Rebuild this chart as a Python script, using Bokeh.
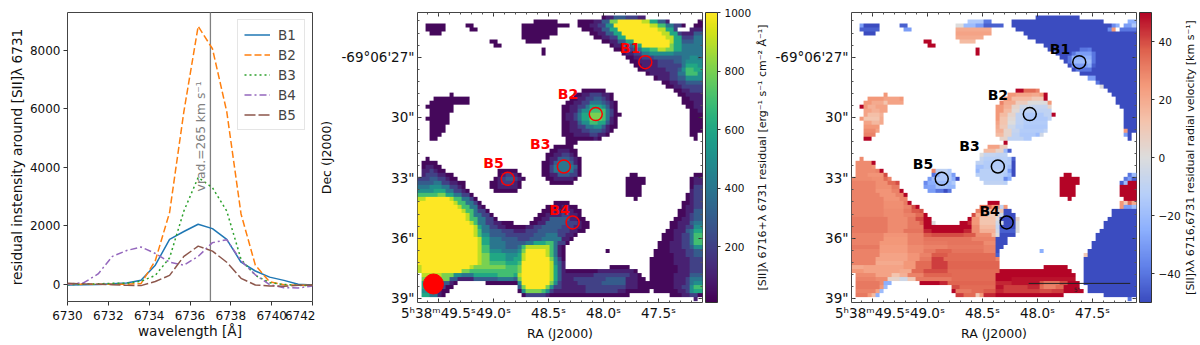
import numpy as np
from math import pi
from bokeh.embed import file_html
from bokeh.resources import INLINE
from bokeh.layouts import row
from bokeh.models import (Range1d, FixedTicker, LinearAxis, LinearColorMapper, ColorBar,
                          Legend, LegendItem)
from bokeh.palettes import Viridis256
from bokeh.plotting import figure
from bokeh.core.properties import value

# ---------- spectra ----------
wavelength = [6730, 6730.8, 6731.5, 6732.2, 6732.9, 6733.6, 6734.3, 6735.0, 6735.7, 6736.4, 6737.1, 6737.8,
              6738.5, 6739.2, 6739.9, 6740.6, 6741.3, 6742.0]
B1 = [-30, -20, -10, 10, 40, 130, 650, 1530, 1800, 2050, 1900, 1530, 750, 450, 240, 130, -5, -30]
B2 = [0, 0, 0, 0, 0, 20, 800, 2450, 5900, 8820, 8050, 5900, 2400, 650, 80, -20, -40, -40]
B3 = [-20, 0, 10, 30, 30, 100, 300, 900, 2500, 3650, 3300, 2500, 850, 300, 50, -10, -40, -50]
B4 = [0, 50, 350, 950, 1150, 1270, 1050, 750, 650, 950, 1420, 1520, 800, 320, -20, -120, -130, -60]
B5 = [30, 10, 0, -20, -40, -50, 90, 300, 950, 1300, 1130, 750, 200, -30, -60, -70, -40, -30]
series_names = ["B1", "B2", "B3", "B4", "B5"]
series_colors = ["#1f77b4", "#ff7f0e", "#2ca02c", "#9467bd", "#8c564b"]
series_dashes = ["solid", "7 3", "2 3", "7 3 2 3", "11 3"]
xticks1 = [6730, 6732, 6734, 6736, 6738, 6740, 6742]
yticks1 = [0, 2000, 4000, 6000, 8000]

# ---------- knots (RA seconds, Dec arcsec) ----------
knot_ra = [47.62, 48.07, 48.36, 48.28, 48.87]
knot_dec = [27.25, 29.83, 32.44, 35.22, 33.05]
lab2_ra = [47.757, 48.323, 48.575, 48.40, 49.0]
lab2_dec = [26.54, 28.81, 31.33, 34.58, 32.24]
lab3_ra = [47.796, 48.36, 48.617, 48.435, 49.04]
lab3_dec = [26.6, 28.86, 31.4, 34.64, 32.29]
ra_ticks = [49.5, 49.0, 48.5, 48.0, 47.5]
ra_labels = ["5ʰ38ᵐ49.5ˢ", "49.0ˢ", "48.5ˢ", "48.0ˢ", "47.5ˢ"]
dec_ticks = [27, 30, 33, 36, 39]
dec_labels = ["-69°06'27\"", '30"', '33"', '36"', '39"']

# ---------- map 1: [SII] residual, level per cell run (column:level); "." = blank ----------
S_BLOBS = [
 {2: "29:0 35:.", 3: "26:0 38:.", 4: "26:0 35:.", 5: "26:0 35:.", 6: "26:0 33:.", 7: "27:0 31:."},
 {3: "2:0 7:.", 4: "2:0 7:.", 5: "3:0 6:."},
 {3: "12:0 14:.", 4: "13:0 15:."},
 {7: "18:0 20:.", 8: "19:0 21:."},
 {9: "31:0 32:.", 10: "31:0 32:."},
 {1: "46:0 47:1 49:3 52:2 55:1 57:.",
  2: "40:0 44:1 46:3 48:8 50:A 56:9 58:6 60:3 62:1 63:. 70:0",
  3: "40:0 43:1 45:2 47:5 49:A 58:9 60:7 62:4 64:2 66:0 67:. 69:0",
  4: "41:0 44:1 46:3 48:6 50:A 60:9 62:6 64:2 65:. 68:1",
  5: "43:0 45:1 47:3 49:6 51:A 61:9 63:6 65:2 66:1 69:3",
  6: "44:0 46:1 48:2 50:6 52:A 62:9 64:6 66:2 69:4",
  7: "46:0 48:1 50:3 52:6 54:A 63:9 64:6 66:3 69:4",
  8: "48:0 49:1 51:3 54:6 56:A 63:8 64:6 66:4 69:4",
  9: "49:0 51:1 52:2 54:4 56:6 58:7 60:9 62:8 64:6 66:4 69:4",
  10: "51:0 52:1 54:2 56:4 58:5 64:4",
  11: "52:0 54:1 56:2 59:3 66:4 68:5 70:4",
  12: "53:0 55:1 60:2 64:3 66:4 67:5",
  13: "54:0 56:1 60:2 66:4 67:6 70:5",
  14: "55:0 57:1 62:2 65:3 66:5 67:7 69:6",
  15: "57:0 58:1 63:2 65:4 67:7 70:5",
  16: "59:0 60:1 63:2 65:3 67:5",
  17: "61:0 63:1 65:2 67:3",
  18: "62:0 64:1 66:2",
  19: "64:0 66:1 68:2",
  20: "65:0 67:1", 21: "66:0 68:1", 22: "66:0 69:1", 23: "67:0 69:1", 24: "68:0 70:1",
  25: "68:0", 26: "68:0", 27: "68:0", 28: "68:0", 29: "68:0", 30: "68:0 70:.", 31: "69:0 70:."},
 {20: "8:0 9:.", 21: "4:0 13:.", 22: "3:0 13:.", 23: "2:0 9:.", 24: "3:0 9:.", 25: "3:0 8:.",
  26: "2:0 8:.", 27: "3:0 8:.", 28: "3:0 7:.", 29: "3:0 7:.", 30: "3:0 6:.", 31: "3:0 5:."},
 {19: "41:0 47:.",
  20: "39:0 41:1 43:2 46:1 48:0 49:.",
  21: "38:0 40:1 42:2 44:3 46:2 47:1 48:0 49:.",
  22: "37:0 39:1 41:2 43:4 46:3 47:2 48:1 49:0 50:.",
  23: "36:0 38:1 40:2 42:4 43:6 46:5 47:3 48:1 49:0 50:.",
  24: "36:0 38:1 40:3 41:5 43:7 47:4 48:2 49:0 50:.",
  25: "36:0 37:1 39:2 40:4 41:6 43:8 46:7 47:4 48:2 49:0 51:.",
  26: "36:0 37:1 39:2 40:4 41:6 43:8 46:7 47:4 48:1 49:0 50:.",
  27: "36:0 38:1 40:3 41:5 43:7 45:6 47:3 48:1 49:0 50:.",
  28: "36:0 38:1 40:2 42:4 44:5 46:3 47:1 48:0 50:.",
  29: "36:0 38:1 41:2 43:3 46:2 47:1 48:0 49:.",
  30: "36:0 39:1 43:2 45:1 47:0 48:.",
  31: "37:0 44:1 45:0 46:.",
  32: "37:0 40:."},
 {33: "34:0 39:.",
  34: "33:0 35:1 38:0 40:.",
  35: "32:0 34:1 36:2 38:1 39:0 40:.",
  36: "32:0 33:1 35:3 38:2 39:1 40:0 41:.",
  37: "31:0 33:1 34:3 35:4 38:3 39:1 40:0 41:.",
  38: "31:0 33:2 34:4 39:3 40:0 41:.",
  39: "31:0 33:2 34:4 39:2 40:0 41:.",
  40: "31:0 33:1 35:3 38:2 40:0 41:.",
  41: "32:0 34:1 37:1 39:0 40:.",
  42: "33:0 39:."},
 {39: "20:0 25:.",
  40: "20:0 21:1 22:2 24:1 25:0 26:.",
  41: "19:0 20:1 21:2 22:3 24:2 25:1 26:0 27:.",
  42: "18:0 20:1 21:2 24:1 25:0 26:.",
  43: "18:0 20:1 25:0 26:.",
  44: "19:0 25:."},
 {40: "53:0 55:.", 41: "52:0 57:.", 42: "52:0 57:.", 43: "52:0 56:.", 44: "52:0 56:.",
  45: "52:0 56:.", 46: "54:0 55:."},
 {36: "2:0 3:.",
  37: "1:0 5:.",
  38: "1:0 2:1 4:0 6:.",
  39: "1:1 3:2 4:1 5:0 7:.",
  40: "1:1 2:2 5:1 7:0 9:.",
  41: "0:2 3:3 5:2 7:1 8:0 10:.",
  42: "0:3 4:4 6:2 8:1 10:0 12:.",
  43: "0:4 3:5 6:4 8:2 10:1 11:0 12:.",
  44: "0:5 4:6 7:4 9:2 11:1 12:0 13:.",
  45: "0:7 5:8 7:6 9:4 11:2 13:0 14:.",
  46: "0:9 2:A 8:9 9:7 11:4 13:2 14:0 15:.",
  47: "0:A 9:9 10:7 12:4 14:2 15:0 16:. 34:0 38:.",
  48: "0:A 10:9 11:7 13:4 15:1 16:0 17:. 32:0 36:1 38:0 40:.",
  49: "0:A 11:9 12:7 14:4 15:2 17:0 18:. 31:0 34:1 39:0 41:.",
  50: "0:A 12:9 13:7 14:4 16:2 18:0 19:. 30:0 32:1 36:2 38:1 40:0 41:.",
  51: "0:A 12:9 13:7 15:4 17:2 19:0 20:. 29:0 31:1 33:3 38:1 40:0 42:.",
  52: "0:A 13:9 14:7 15:4 17:2 19:1 21:0 24:. 28:0 30:1 32:3 37:2 40:1 41:0 43:.",
  53: "0:A 14:9 15:6 16:4 18:2 20:1 22:0 27:1 29:2 31:3 36:2 39:1 41:0 43:.",
  54: "0:A 14:9 15:7 16:4 18:3 21:2 24:1 27:2 30:3 35:2 38:1 40:0 42:.",
  55: "0:A 14:9 15:7 16:5 18:3 22:2 29:3 32:4 35:2 37:1 39:0 40:.",
  56: "0:A 15:9 16:6 18:4 21:3 25:2 28:3 31:4 36:1 38:0 39:.",
  57: "0:A 15:9 16:6 18:4 22:3 27:4 29:6 32:7 34:4 35:2 37:0 38:.",
  58: "0:A 15:9 16:7 18:4 22:3 25:4 26:7 27:9 33:7 34:4 35:1 36:0 37:.",
  59: "0:A 15:9 16:7 18:5 21:4 25:5 26:8 27:A 32:9 33:7 34:4 35:1 36:0 37:.",
  60: "0:A 15:9 16:8 18:6 22:5 25:6 26:9 27:A 32:9 33:7 34:4 35:1 36:0 37:.",
  61: "0:A 15:9 16:8 18:6 22:5 24:6 26:9 27:A 33:8 34:5 35:2 36:0 37:.",
  62: "0:A 15:9 16:8 18:7 22:6 25:7 26:A 33:9 34:5 35:3 36:1 37:.",
  63: "0:9 1:A 13:9 14:8 22:7 25:8 26:A 33:9 34:6 35:3 36:1 37:.",
  64: "0:9 1:A 11:8 13:7 25:8 26:A 33:9 34:6 35:3 36:1 37:0 45:1 54:0 55:.",
  65: "1:9 6:8 9:5 11:4 14:6 20:7 24:6 25:9 26:A 33:9 34:6 35:3 36:1 44:2 53:1 55:0 56:.",
  66: "1:8 8:3 10:1 14:3 20:4 24:3 25:8 26:A 33:9 34:6 35:3 36:1 39:2 47:3 52:1 55:0 57:.",
  67: "1:6 6:3 8:1 9:0 10:. 17:0 25:5 26:A 33:8 34:5 35:2 36:1 40:2 46:3 52:1 55:0 58:.",
  68: "1:6 6:2 7:0 9:. 25:3 26:8 27:A 32:8 33:5 34:2 36:1 42:2 52:1 55:0 59:.",
  69: "1:5 5:1 6:0 8:. 25:0 26:5 27:8 31:7 32:5 33:2 34:1 42:2 50:1 52:0 58:.",
  70: "1:6 3:4 5:1 6:0 7:. 26:0 27:2 32:1 33:0 53:."},
 {63: "48:0 53:.", 59: "47:0 48:."},
 {40: "69:0", 41: "68:0 69:1", 42: "68:0 69:1", 43: "68:0 69:2", 44: "68:1 69:2", 45: "67:0 68:1 69:2",
  46: "67:0 68:1 69:2", 47: "66:0 68:1 69:2", 48: "66:0 67:1 69:2", 49: "65:0 67:1 69:3",
  50: "65:0 67:1 68:2 69:3", 51: "64:0 66:1 68:2 69:3", 52: "63:0 65:1 68:3 69:4",
  53: "63:0 65:1 67:2 69:5", 54: "62:0 64:1 67:3 68:4 69:6", 55: "61:0 64:1 66:2 68:4 69:7",
  56: "61:0 64:1 66:2 68:4 69:7", 57: "60:0 63:1 66:2 68:4 69:7", 58: "60:0 63:1 66:2 68:3 69:5",
  59: "59:0 63:1 67:2 69:3", 60: "59:0 64:1 67:2 69:3", 61: "58:0 64:1 68:2", 62: "58:0 64:1 68:2",
  63: "58:0 65:1 68:2", 64: "58:0 65:1 68:2", 65: "58:0 64:1 68:3", 66: "58:0 64:1 67:2 68:4",
  67: "58:0 64:1 67:2 68:4 69:5", 68: "59:0 64:1 66:2 68:5 69:7", 69: "59:0 65:1 67:2 68:5 69:6",
  70: "63:0 66:1 68:2 70:0", 71: "69:1 70:."},
]
S_LEVELS = {"0": 30, "1": 100, "2": 200, "3": 300, "4": 400, "5": 500, "6": 600, "7": 700, "8": 800,
            "9": 900, "A": 1000}

# ---------- map 2: residual radial velocity, value per cell run (column:km/s); "." = blank ----------
V_BLOBS = [
 {2: "29:-15 33:-40 35:.", 3: "26:0 28:-20 31:-30 33:-45 38:.", 4: "26:20 35:.", 5: "26:22 35:.",
  6: "26:20 33:.", 7: "27:15 31:."},
 {3: "2:-30 3:-50 7:.", 4: "2:-45 7:.", 5: "3:-50 6:."},
 {3: "12:-45 14:.", 4: "13:-30 15:."},
 {7: "18:50 20:.", 8: "19:50 21:."},
 {9: "31:50 32:.", 10: "31:50 32:."},
 {1: "46:-50 57:.", 2: "40:-50 63:. 69:-25", 3: "40:-50 65:-35 66:-25 67:. 68:-30 70:-15",
  4: "41:-50 64:-35 65:25 66:. 67:-40", 5: "43:-50", 6: "44:-50", 7: "46:-50", 8: "48:-50",
  9: "49:-50 57:-40 59:-38 60:-50", 10: "51:-50 55:-40 56:-30 59:-30 60:-40 61:-50",
  11: "52:-50 54:-40 55:-25 59:-25 60:-40 61:-50", 12: "53:-50 54:-40 55:-20 59:-20 60:-40 61:-50",
  13: "54:-50 55:-30 59:-25 60:-45 61:-50", 14: "55:-50 56:-40 59:-40 60:-50", 15: "57:-50",
  16: "59:-30 61:-50", 17: "61:-40 62:-50", 18: "62:0 63:-50", 19: "64:-50", 20: "65:-50", 21: "66:-50",
  22: "66:-50", 23: "67:-50", 24: "68:-50", 25: "68:-50", 26: "68:-50", 27: "68:-50", 28: "68:-50",
  29: "68:25 69:-50", 30: "68:-30 69:-50 70:.", 31: "69:-50 70:."},
 {20: "8:25 9:.", 21: "4:25 8:22 12:25 13:.", 22: "3:25 5:20 8:12 9:22 13:.", 23: "2:50 3:25 4:18 6:22 9:.",
  24: "3:22 5:18 7:22 9:.", 25: "3:22 4:14 7:18 8:.", 26: "2:25 3:12 7:20 8:.", 27: "3:22 5:16 7:20 8:.",
  28: "3:25 7:.", 29: "3:28 6:22 7:.", 30: "3:30 6:.", 31: "3:50 5:."},
 {19: "41:50 43:35 46:30 47:.",
  20: "39:25 41:22 45:20 47:25 48:50 49:.",
  21: "38:25 40:15 45:10 48:50 49:.",
  22: "37:30 38:20 41:8 44:0 49:25 50:.",
  23: "36:25 38:18 40:5 42:-5 45:-8 49:5 50:.",
  24: "36:25 38:15 40:2 42:-10 50:.",
  25: "36:25 37:15 39:5 41:-10 43:-15 48:-10 50:50 51:.",
  26: "36:25 37:12 39:2 41:-10 43:-15 49:-10 50:.",
  27: "36:22 37:12 39:0 41:-10 43:-14 49:.",
  28: "36:20 37:10 39:-5 41:-12 43:-15 49:.",
  29: "36:18 38:5 40:-8 42:-14 48:-10 49:.",
  30: "36:15 38:5 40:-10 42:-15 46:-20 47:-5 48:.",
  31: "37:5 39:-10 43:-15 45:.",
  32: "38:50 39:."},
 {33: "34:22 37:8 39:.",
  34: "33:15 36:5 38:-20 39:-45 40:.",
  35: "32:0 33:-8 36:-10 39:.",
  36: "32:-8 33:-12 39:-15 40:-45 41:.",
  37: "31:-10 33:-14 40:-50 41:.",
  38: "31:-18 33:-14 39:-18 40:-50 41:.",
  39: "31:-22 32:-12 39:-30 40:-50 41:.",
  40: "31:-12 38:-15 39:-20 40:-50 41:.",
  41: "32:-12 38:-35 39:-25 40:.",
  42: "33:-10 38:-12 39:."},
 {39: "20:30 21:-12 22:-10 24:-15 25:.",
  40: "20:-40 21:-25 22:-15 25:-30 26:.",
  41: "19:-30 20:-20 21:-15 25:-25 26:-50 27:.",
  42: "18:-35 19:-25 21:-20 25:-15 26:.",
  43: "18:-30 19:-28 21:-18 24:-22 26:.",
  44: "19:-30 21:-40 23:-50 24:-40 25:."},
 {40: "53:50 55:.", 41: "52:50 57:.", 42: "52:50 57:.", 43: "52:50 56:.", 44: "52:50 56:.", 45: "52:50 56:.",
  46: "54:50 55:."},
 {36: "2:28 3:.",
  37: "1:28 5:50 6:.",
  38: "1:28 5:26 6:.",
  39: "1:28 6:30 7:50 8:.",
  40: "1:28 4:26 8:40 9:.",
  41: "0:28 5:27 8:35 9:30 10:.",
  42: "0:30 6:27 9:35 11:40 12:.",
  43: "0:30 6:27 10:32 12:.",
  44: "0:30 6:26 10:30 12:50 13:.",
  45: "0:30 7:26 11:30 13:50 14:.",
  46: "0:30 8:26 12:30 14:.",
  47: "0:30 8:27 13:32 14:50 15:. 34:50 37:.",
  48: "0:30 8:27 13:30 15:40 16:50 17:. 32:35 35:25 37:-10 38:25 39:.",
  49: "0:30 8:28 13:32 15:38 17:40 18:. 31:30 33:15 36:12 38:-50 40:.",
  50: "0:30 8:28 13:30 16:35 18:50 19:. 30:40 31:20 34:8 37:-5 38:-50 41:.",
  51: "0:32 9:28 14:32 16:40 18:50 20:. 29:50 30:25 32:12 36:0 37:-50 41:5 42:.",
  52: "0:32 9:28 14:32 17:38 18:50 20:0 21:. 27:50 29:45 30:25 32:12 36:-5 38:-50 41:0 42:.",
  53: "0:32 9:28 14:32 18:50 30:28 32:15 36:-8 37:-50 41:0 42:.",
  54: "0:32 9:28 13:33 18:45 20:50 28:45 30:28 32:18 36:-5 37:-45 41:0 42:.",
  55: "0:30 8:26 14:30 18:38 20:40 28:38 31:28 35:15 36:0 37:-50 41:.",
  56: "0:30 8:25 14:30 18:33 30:30 36:-50 39:.",
  57: "0:30 7:25 14:30 18:32 24:33 33:28 36:-50 39:.",
  58: "0:32 7:24 14:28 18:30 24:32 33:30 36:-50 38:.",
  59: "0:30 7:24 14:28 18:32 21:36 25:33 33:30 36:-50 37:.",
  60: "0:30 7:22 14:26 17:30 20:38 24:35 36:-45 37:.",
  61: "0:30 6:22 14:26 17:32 20:42 23:35 36:30 37:.",
  62: "0:30 6:20 13:25 16:35 20:42 24:36 37:.",
  63: "0:20 3:22 13:25 16:35 20:42 24:36 37:.",
  64: "0:25 3:22 12:20 15:35 18:40 24:35 37:50 55:.",
  65: "1:28 6:22 10:12 12:18 14:30 18:36 25:35 36:50 56:.",
  66: "1:30 6:28 9:5 12:-5 14:10 16:32 25:35 36:50 40:48 56:.",
  67: "1:32 7:28 8:-25 10:. 17:50 22:45 24:36 36:45 40:48 47:38 48:32 52:40 54:50 57:.",
  68: "1:32 7:25 8:-20 9:. 25:40 27:35 36:48 38:42 44:45 47:35 48:30 51:35 53:50 57:.",
  69: "1:30 6:22 7:-20 8:. 25:50 26:32 30:35 33:38 36:45 38:42 47:40 50:42 53:50 58:.",
  70: "1:32 4:25 5:15 6:-25 7:. 26:42 28:35 31:10 32:25 33:45 36:50 53:."},
 {63: "48:50 54:.", 59: "47:-25 48:."},
 {40: "69:-40 70:-20", 41: "68:-40 69:-30 70:-45", 42: "67:-45 68:-20 69:50", 43: "67:50", 44: "67:50",
  45: "67:50", 46: "68:50", 47: "67:25 68:10 69:35 70:20", 48: "67:25 68:-30 70:-20", 49: "65:-50",
  50: "65:-50", 51: "64:-50", 52: "63:-50", 53: "63:-50", 54: "62:-50", 55: "61:-50", 56: "61:-50",
  57: "60:-50", 58: "60:-50", 59: "59:-50", 60: "58:10 59:-50", 61: "58:-50", 62: "58:-50", 63: "58:-50",
  64: "58:-50", 65: "58:-50", 66: "58:-50", 67: "58:-50", 68: "59:-50", 69: "59:-50", 70: "63:-50",
  71: "69:-40 70:."},
]
coolwarm_anchors = [(59, 76, 192), (98, 130, 234), (141, 176, 254), (184, 208, 249), (221, 221, 221),
                    (245, 196, 173), (244, 154, 123), (222, 96, 77), (180, 4, 38)]

# ---------- helpers ----------
NROW, NCOL = 72, 72
CELL_X, CELL_Y = 12 / 330, 12.1 / 60.7
RA_L, RA_R, DEC_T, DEC_B = 49.69, 47.10, 24.78, 39.2


def build(blobs, decode):
    arr = np.full((NROW, NCOL), np.nan)
    for blob in blobs:
        for r, text in blob.items():
            toks = [t.split(":") for t in text.split()]
            for i, (c, v) in enumerate(toks):
                c = int(c)
                end = int(toks[i + 1][0]) if i + 1 < len(toks) else NCOL
                if v != ".":
                    arr[r, c:end] = decode(v)
    return arr


def ramp(anchors, n=256):
    xs = np.linspace(0, len(anchors) - 1, n)
    a = np.array(anchors, float)
    chans = [np.interp(xs, np.arange(len(anchors)), a[:, k]) for k in range(3)]
    return ["#%02x%02x%02x" % (int(r), int(g), int(b)) for r, g, b in zip(*chans)]


def style_axis(ax, size="12.5px"):
    ax.major_label_text_font = "DejaVu Sans"
    ax.major_label_text_font_size = size
    ax.major_label_text_color = "#111111"
    ax.axis_label_text_font = "DejaVu Sans"
    ax.axis_label_text_font_style = "normal"
    ax.axis_label_text_font_size = "13.7px"
    ax.axis_label_text_color = "#111111"
    ax.axis_line_color = None
    ax.major_tick_line_color = "#333333"
    ax.minor_tick_line_color = "#555555"


FONT = value("DejaVu Sans")
WCS_X = FixedTicker(ticks=[-t for t in ra_ticks], minor_ticks=[round(-49.6 + 0.1 * i, 2) for i in range(25)])
WCS_Y = FixedTicker(ticks=[-t for t in dec_ticks], minor_ticks=[round(-39 + 0.6 * i, 2) for i in range(24)])


def wcs_map(arr, mapper, name_color, lab_ra, lab_dec, left, right, ylabel, bar_ticks, bar_over):
    p = figure(frame_width=285, frame_height=290, min_border_left=left, min_border_right=right,
               min_border_top=12, min_border_bottom=35, output_backend="svg", toolbar_location=None,
               x_range=Range1d(-RA_L, -RA_R), y_range=Range1d(-DEC_B, -DEC_T),
               x_axis_location="below", y_axis_location="left")
    p.grid.visible = False
    p.outline_line_color = "#444444"
    p.background_fill_color = "white"
    y0 = -DEC_T - NROW * CELL_Y
    p.image(image=[arr[::-1]], x=-RA_L, y=y0, dw=NCOL * CELL_X, dh=NROW * CELL_Y, color_mapper=mapper)

    ax = p.xaxis[0]
    ax.ticker = WCS_X
    ax.major_label_overrides = {-t: s for t, s in zip(ra_ticks, ra_labels)}
    ax.axis_label = "RA (J2000)"
    ay = p.yaxis[0]
    ay.ticker = WCS_Y
    ay.major_label_overrides = {-t: s for t, s in zip(dec_ticks, dec_labels)}
    if ylabel:
        ay.axis_label = ylabel
    for a in (ax, ay):
        style_axis(a, "13.5px")
        a.major_tick_in, a.major_tick_out = 4, 0
        a.minor_tick_in, a.minor_tick_out = 2, 0
    ax.major_label_standoff = 2
    ax.axis_label_standoff = 2
    ay.major_label_standoff = 3
    ay.axis_label_standoff = 4
    ax.axis_label_text_font_size = "12.5px"
    ay.axis_label_text_font_size = "12.5px"

    top = LinearAxis(ticker=WCS_X, major_label_overrides={-t: "" for t in ra_ticks})
    rgt = LinearAxis(ticker=WCS_Y, major_label_overrides={-t: "" for t in dec_ticks})
    for a in (top, rgt):
        style_axis(a, "1px")
        a.major_tick_in, a.major_tick_out = 4, 0
        a.minor_tick_in, a.minor_tick_out = 2, 0
        a.major_label_text_color = None
        a.major_label_standoff = 0
    p.add_layout(top, "above")
    p.add_layout(rgt, "right")

    bar = ColorBar(color_mapper=mapper, ticker=FixedTicker(ticks=bar_ticks), major_label_overrides=bar_over,
                   width=12, padding=0, margin=3, location=(3, 0),
                   major_label_text_font="DejaVu Sans", major_label_text_font_size="10.5px",
                   major_label_text_color="#111111", major_tick_in=0, major_tick_out=3,
                   major_tick_line_color="#333333", bar_line_color="#333333", label_standoff=4)
    p.add_layout(bar, "right")

    p.scatter(x=[-v for v in knot_ra], y=[-v for v in knot_dec], marker="circle", size=13, fill_color=None,
              line_color=name_color, line_width=1.5)
    p.text(x=[-v for v in lab_ra], y=[-v for v in lab_dec], text=series_names, text_color=name_color,
           text_font=FONT, text_font_style="bold", text_font_size="14px", text_align="center",
           text_baseline="middle")
    return p


def vertical_label(text, width):
    q = figure(frame_width=width, frame_height=337, min_border=0, output_backend="svg", toolbar_location=None,
               x_range=Range1d(0, 1), y_range=Range1d(0, 337), x_axis_location=None, y_axis_location=None)
    q.grid.visible = False
    q.outline_line_color = None
    q.text(x=[0.5], y=[192], text=[text], angle=pi / 2, text_font=FONT, text_font_size="11px",
           text_color="#111111", text_align="center", text_baseline="middle")
    return q


# ---------- left panel ----------
p1 = figure(frame_width=245, frame_height=289, min_border_left=67, min_border_right=3, min_border_top=12,
            min_border_bottom=36, output_backend="svg", toolbar_location=None,
            x_range=Range1d(6730, 6742), y_range=Range1d(-593, 9290))
p1.grid.visible = False
p1.outline_line_color = "#444444"
style_axis(p1.xaxis[0], "12px")
style_axis(p1.yaxis[0], "12px")
p1.xaxis.ticker = FixedTicker(ticks=xticks1)
p1.yaxis.ticker = FixedTicker(ticks=yticks1)
p1.xaxis.minor_tick_line_color = None
p1.yaxis.minor_tick_line_color = None
p1.xaxis.major_tick_in = p1.yaxis.major_tick_in = 0
p1.xaxis.major_tick_out = p1.yaxis.major_tick_out = 4
p1.xaxis.axis_label = "wavelength [Å]"
p1.yaxis.axis_label = "residual instensity around [SII]λ 6731"
p1.xaxis.axis_label_standoff = 0
p1.yaxis.axis_label_standoff = 2
p1.yaxis.major_label_standoff = 3
p1.ray(x=[6737], y=[-593], length=0, angle=pi / 2, line_color="#808080", line_width=1.3)
items = []
for name, vals, col, dash in zip(series_names, [B1, B2, B3, B4, B5], series_colors, series_dashes):
    r = p1.line(wavelength, vals, line_color=col, line_width=1.5, line_dash=dash)
    items.append(LegendItem(label=name, renderers=[r]))
p1.text(x=[6736.55], y=[5055], text=["vrad.=265 km s⁻¹"], angle=pi / 2, text_color="#808080", text_font=FONT,
        text_font_size="12.3px", text_align="center", text_baseline="middle")
leg = Legend(items=items, location="top_right", margin=7, padding=6, spacing=3, glyph_width=26, glyph_height=17,
             label_height=17, label_standoff=8, label_text_font="DejaVu Sans", label_text_font_size="13.5px",
             border_line_color="#cccccc", background_fill_alpha=0.8)
p1.add_layout(leg)

# ---------- maps ----------
s_map = build(S_BLOBS, lambda v: S_LEVELS[v])
v_map = build(V_BLOBS, float)
cm_s = LinearColorMapper(palette=Viridis256, low=10, high=1000, nan_color=(0, 0, 0, 0))
cm_v = LinearColorMapper(palette=ramp(coolwarm_anchors), low=-50, high=50, nan_color=(0, 0, 0, 0))

p2 = wcs_map(s_map, cm_s, "red", lab2_ra, lab2_dec, 102, 50, "Dec (J2000)", [200, 400, 600, 800, 1000], {})
p2.scatter(x=[-49.545], y=[-38.28], marker="circle", size=20, fill_color="red", line_color="red")
lab2 = vertical_label("[SII]λ 6716+λ 6731 residual [erg⁻¹ s⁻¹ cm⁻² Å⁻¹]", 16)

p3 = wcs_map(v_map, cm_v, "black", lab3_ra, lab3_dec, 81, 46, None, [-40, -20, 0, 20, 40],
             {-40: "−40", -20: "−20", 0: "0", 20: "20", 40: "40"})
p3.line(x=[-48.08, -47.157], y=[-38.25, -38.25], line_color="#222222", line_width=1)
p3.text(x=[-47.64], y=[-38.56], text=['5"'], text_font=FONT, text_font_size="6px", text_color="#222222",
        text_align="center", text_baseline="middle")
lab3 = vertical_label("[SII]λλ 6716,6731 residual radial velocity [km s⁻¹]", 14)

page = row(p1, p2, lab2, p3, lab3, spacing=0)
open("out.html", "w").write(file_html(page, INLINE))
